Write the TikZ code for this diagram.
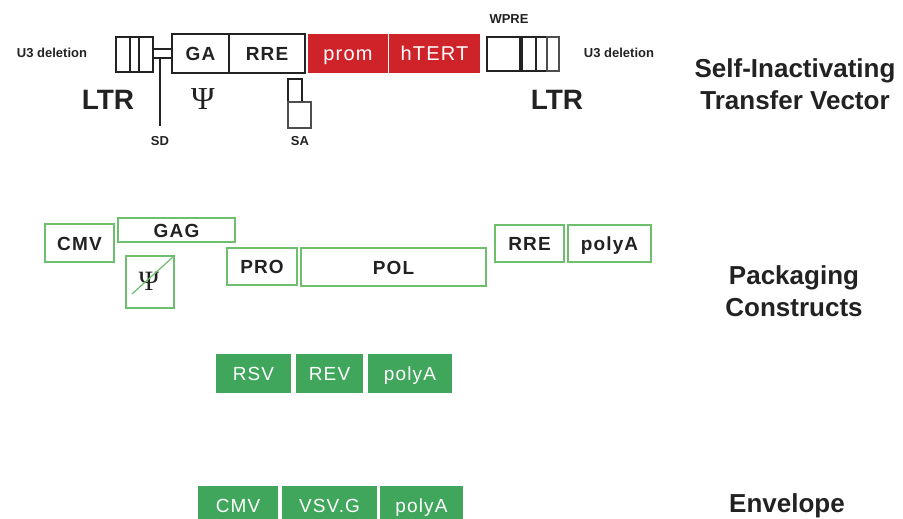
\documentclass[tikz,border=0pt]{standalone}
\usepackage{fontspec}
\setmainfont{Liberation Sans}
\newfontfamily\psifont{Liberation Serif}
\definecolor{ink}{HTML}{222222}
\definecolor{hred}{HTML}{CE2329}
\definecolor{gline}{HTML}{6DBE6D}
\definecolor{gfillc}{HTML}{3FA65B}
\newcommand\bx[7]{\node[#6, inner sep=0pt, outer sep=0pt, minimum width={(#4-#2)*1pt}, minimum height={(#5-#3)*1pt}] (#1) at ({(#2+#4)/2},{(#3+#5)/2}) {#7};}
\begin{document}
\begin{tikzpicture}[x=1pt,y=-1pt,
  blk/.style={draw=ink, line width=1.4pt, fill=white},
  lblk/.style={draw=ink!80, line width=1.2pt, fill=white},
  boxtext/.style={text height=14pt, text depth=0pt},
  redbox/.style={fill=hred, draw=none, text=white, boxtext, font=\fontsize{20}{22}\selectfont\addfontfeature{LetterSpace=6}},
  gout/.style={draw=gline, line width=1.6pt, fill=white, text=ink, boxtext, font=\fontsize{19}{22}\selectfont\bfseries\addfontfeature{LetterSpace=6}},
  gfill/.style={fill=gfillc, draw=none, text=white, boxtext, font=\fontsize{19}{22}\selectfont\addfontfeature{LetterSpace=6}},
  lab/.style={font=\fontsize{19}{22}\selectfont\bfseries\addfontfeature{LetterSpace=6}, text=ink, boxtext},
  small/.style={font=\fontsize{13}{14}\selectfont\bfseries, text=ink},
  title/.style={font=\fontsize{26}{32}\selectfont\bfseries, text=ink, align=center},
  big/.style={font=\fontsize{28}{30}\selectfont\bfseries, text=ink}
]
\useasboundingbox (0,0) rectangle (903,519);

% ---- Self-inactivating transfer vector ----
\bx{ltrLa}{116}{37}{130}{72}{blk}{}
\bx{ltrLb}{130}{37}{139}{72}{blk}{}
\bx{ltrLc}{139}{37}{153}{72}{blk}{}
\bx{ga}{172}{34}{229}{73}{blk,lab}{GA}
\bx{rre}{229}{34}{305}{73}{blk,lab}{RRE}
\bx{prom}{308}{34}{388}{73}{redbox}{prom}
\bx{htert}{389}{34}{480}{73}{redbox}{hTERT}
\bx{wpre}{487}{37}{520}{71}{blk}{}
\bx{ltrRa}{522}{37}{536}{71}{blk}{}
\bx{ltrRb}{536}{37}{547}{71}{blk}{}
\bx{ltrRc}{547}{37}{559}{71}{lblk}{}
\bx{saup}{288}{79}{302}{102}{blk}{}
\bx{salo}{288}{102}{311}{128}{lblk}{}

\draw[ink, line width=1.3pt] (ltrLc.east |- 0,49) -- (ga.west |- 0,49);
\draw[ink, line width=1.3pt] (ltrLc.east |- 0,58) -- (ga.west |- 0,58);
\coordinate (sdtop) at (160,58);
\coordinate (sdbot) at (160,126);
\draw[ink, line width=1.4pt] (sdtop) -- (sdbot);

\node[small] (u3l) at (52,53) {U3 deletion};
\node[small] (u3r) at (619,53) {U3 deletion};
\node[small] (wprel) at (509,19) {WPRE};
\node[small] (sdl) at (160,141) {SD};
\node[small] (sal) at (300,141) {SA};
\node[big] (ltrl) at (108,100) {LTR};
\node[big] (ltrr) at (557,100) {LTR};
\node[text=ink, font=\fontsize{32}{34}\selectfont\psifont] (psi1) at (203,99) {Ψ};
\node[title] (t1) at (795,84) {Self-Inactivating\\Transfer Vector};

% ---- Packaging constructs ----
\bx{cmv}{45}{224}{114}{262}{gout}{CMV}
\bx{gag}{118}{218}{235}{242}{gout}{GAG}
\bx{psib}{126}{256}{174}{308}{gout}{}
\node[text=ink, font=\fontsize{28}{30}\selectfont\psifont] (psi2) at (149,281) {Ψ};
\coordinate (cr1) at (132,294);
\coordinate (cr2) at (173,257);
\draw[gline, line width=1.2pt] (cr1) -- (cr2);
\bx{pro}{227}{248}{297}{285}{gout}{PRO}
\bx{pol}{301}{248}{486}{286}{gout}{POL}
\bx{rre2}{495}{225}{564}{262}{gout}{RRE}
\bx{pa1}{568}{225}{651}{262}{gout}{polyA}
\node[title] (t2) at (794,291) {Packaging\\Constructs};

\bx{rsv}{216}{354}{291}{393}{gfill}{RSV}
\bx{rev}{296}{354}{363}{393}{gfill}{REV}
\bx{pa2}{368}{354}{452}{393}{gfill}{polyA}

% ---- Envelope ----
\bx{cmv2}{198}{486}{278}{525}{gfill}{CMV}
\bx{vsvg}{282}{486}{377}{525}{gfill}{VSV.G}
\bx{pa3}{380}{486}{463}{525}{gfill}{polyA}
\node[title, anchor=base] (t3) at (787,512) {Envelope};
\end{tikzpicture}
\end{document}
